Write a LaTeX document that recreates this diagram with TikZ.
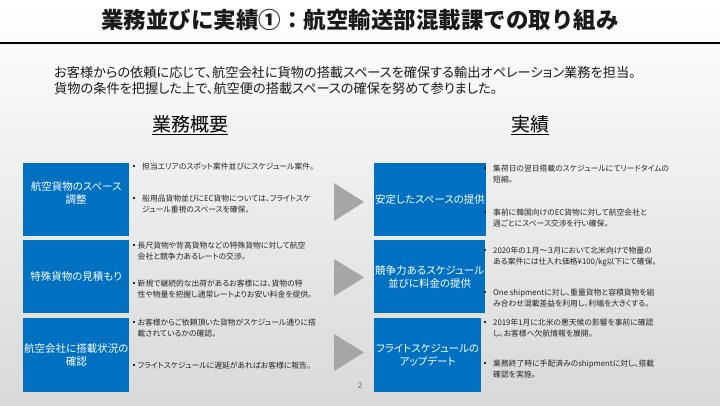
\documentclass[tikz,border=0pt]{standalone}
\usepackage{fontspec}
\setmainfont{Noto Sans CJK JP}[CharacterWidth=AlternateProportional]
\newfontfamily\titlefont{Noto Sans CJK JP}
\definecolor{myblue}{HTML}{0070C0}
\definecolor{arrowgray}{HTML}{A6A6A6}
\definecolor{textgray}{HTML}{262626}
\newcommand{\bitem}[3]{\begin{tabular}[t]{@{}l@{}l@{}}\makebox[#1][l]{\raisebox{2.2pt}{\rule{1.8pt}{1.8pt}}}&#2\\&#3\end{tabular}}
\begin{document}
\begin{tikzpicture}[x=1pt,y=-1pt,
  bluebox/.style={fill=myblue, text=white, anchor=north west, minimum width=106pt, minimum height=73pt, inner sep=1pt, align=center, font=\fontsize{10.5}{13}\selectfont},
  bul/.style={anchor=base west, inner sep=0pt, font=\fontsize{7.8}{11.5}\selectfont, text=textgray},
  heading/.style={font=\fontsize{19}{22}\selectfont, text=black},
  chevron/.style={fill=arrowgray}]
\shade[top color=white, bottom color=black!15] (0,0) rectangle (720,405);
\useasboundingbox (0,0) rectangle (720,405);

\node[font=\titlefont\fontsize{22.5}{26}\selectfont\bfseries, text=black!90] (title) at (360,20) {業務並びに実績①：航空輸送部混載課での取り組み};
\coordinate (ruleL) at (0,43);
\coordinate (ruleR) at (720,43);
\draw[line width=1.2pt] (ruleL) -- (ruleR);

\node[anchor=west, align=left, inner sep=0pt, font=\fontsize{13.2}{16}\selectfont, text=black!90] (intro) at (54,80)
 {お客様からの依頼に応じて、航空会社に貨物の搭載スペースを確保する輸出オペレーション業務を担当。\\貨物の条件を把握した上で、航空便の搭載スペースの確保を努めて参りました。};

\node[heading] (h1) at (190,125) {\underline{業務概要}};
\node[heading] (h2) at (530,125) {\underline{実績}};

% left boxes
\node[bluebox, text depth=14pt] (L1) at (23,163) {航空貨物のスペース\\調整};
\node[bluebox] (L2) at (23,240) {特殊貨物の見積もり};
\node[bluebox, minimum height=74pt] (L3) at (23,318) {航空会社に搭載状況の\\確認};
% right boxes
\node[bluebox, minimum width=107pt] (R1) at (374,163) {安定したスペースの提供};
\node[bluebox, minimum width=107pt] (R2) at (374,240) {競争力あるスケジュール\\並びに料金の提供};
\node[bluebox, minimum width=107pt, minimum height=74pt] (R3) at (374,318) {フライトスケジュールの\\アップデート};

% chevrons
\fill[chevron] (334,183) -- (364,202) -- (334,221) -- cycle;
\fill[chevron] (334,259) -- (364,277.5) -- (334,296) -- cycle;
\fill[chevron] (334,334) -- (364,352.5) -- (334,371) -- cycle;

% left bullets
\node[bul] (l1a) at (133,169) {\bitem{9pt}{担当エリアのスポット案件並びにスケジュール案件。}{}};
\node[bul] (l1b) at (133,201) {\bitem{9pt}{船用品貨物並びにEC貨物については、フライトスケ}{ジュール重視のスペースを確保。}};
\node[bul] (l2a) at (133,248) {\bitem{4.5pt}{長尺貨物や背高貨物などの特殊貨物に対して航空}{会社と競争力あるレートの交渉。}};
\node[bul] (l2b) at (133,286) {\bitem{4.5pt}{新規で継続的な出荷があるお客様には、貨物の特}{性や物量を把握し通常レートよりお安い料金を提供。}};
\node[bul] (l3a) at (133,325) {\bitem{4.5pt}{お客様からご依頼頂いた貨物がスケジュール通りに搭}{載されているかの確認。}};
\node[bul] (l3b) at (133,368) {\bitem{4.5pt}{フライトスケジュールに遅延があればお客様に報告。}{}};

% right bullets
\node[bul] (r1a) at (484,171) {\bitem{9pt}{集荷日の翌日搭載のスケジュールにてリードタイムの}{短縮。}};
\node[bul] (r1b) at (484,215) {\bitem{9pt}{事前に韓国向けのEC貨物に対して航空会社と}{週ごとにスペース交渉を行い確保。}};
\node[bul] (r2a) at (484,253) {\bitem{9pt}{2020年の１月～３月において北米向けで物量の}{ある案件には仕入れ価格¥100/kg以下にて確保。}};
\node[bul] (r2b) at (484,295) {\bitem{9pt}{One shipmentに対し、重量貨物と容積貨物を組}{み合わせ混載差益を利用し、利幅を大きくする。}};
\node[bul] (r3a) at (484,325) {\bitem{9pt}{2019年1月に北米の悪天候の影響を事前に確認}{し、お客様へ欠航情報を展開。}};
\node[bul] (r3b) at (484,366) {\bitem{9pt}{業務終了時に手配済みのshipmentに対し、搭載}{確認を実施。}};

\node[text=black!55, font=\fontsize{8}{9}\selectfont] (page) at (360,386) {2};
\end{tikzpicture}
\end{document}
